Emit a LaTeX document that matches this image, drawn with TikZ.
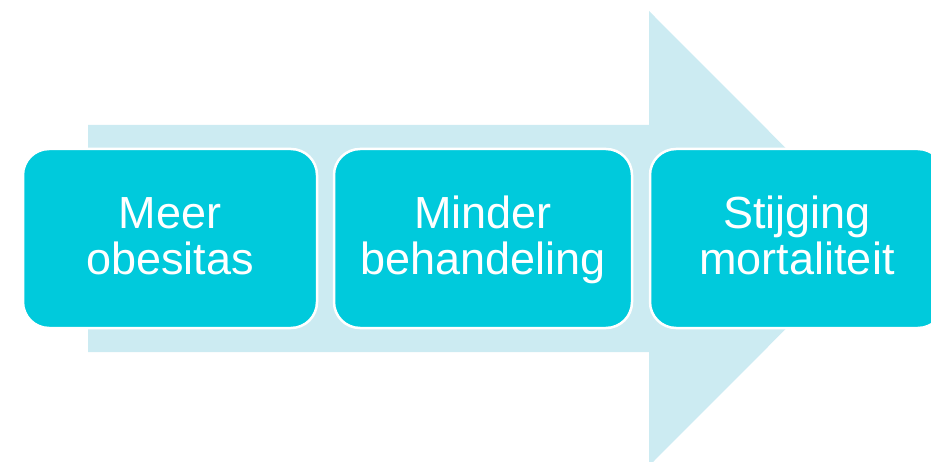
\documentclass[tikz,border=0pt]{standalone}
\usepackage{fontspec}
\setmainfont{Liberation Sans}
\definecolor{arrowfill}{HTML}{CCEBF2}
\definecolor{boxfill}{HTML}{00CADC}
% fixed line heights so every two-line label sits at the same baselines
\newcommand{\topline}{\rule{0pt}{35.5pt}}
\newcommand{\botline}{\rule[-9.5pt]{0pt}{9.5pt}}
\begin{document}
\begin{tikzpicture}[x=1pt,y=-1pt,
  stepbox/.style={draw=white, line width=2.5pt, fill=boxfill, rounded corners=26pt,
    minimum height=179pt, text=white, align=center, inner sep=0pt,
    font=\fontsize{45}{45}\selectfont}]
  \useasboundingbox (0,0) rectangle (931,462);
  \clip (0,0) rectangle (931,462);
  % large background arrow
  \fill[arrowfill] (88,125) -- (649,125) -- (649,11) -- (876,238.5)
    -- (649,466) -- (649,352) -- (88,352) -- cycle;
  % process steps
  \node[stepbox, minimum width=294pt] (s1) at (170,238.5)
    {\topline Meer\\obesitas\botline};
  \node[stepbox, minimum width=298pt] (s2) at (483,238.5)
    {\topline Minder\\behandeling\botline};
  \node[stepbox, minimum width=294pt] (s3) at (797,238.5)
    {\topline Stijging\\mortaliteit\botline};
\end{tikzpicture}
\end{document}
